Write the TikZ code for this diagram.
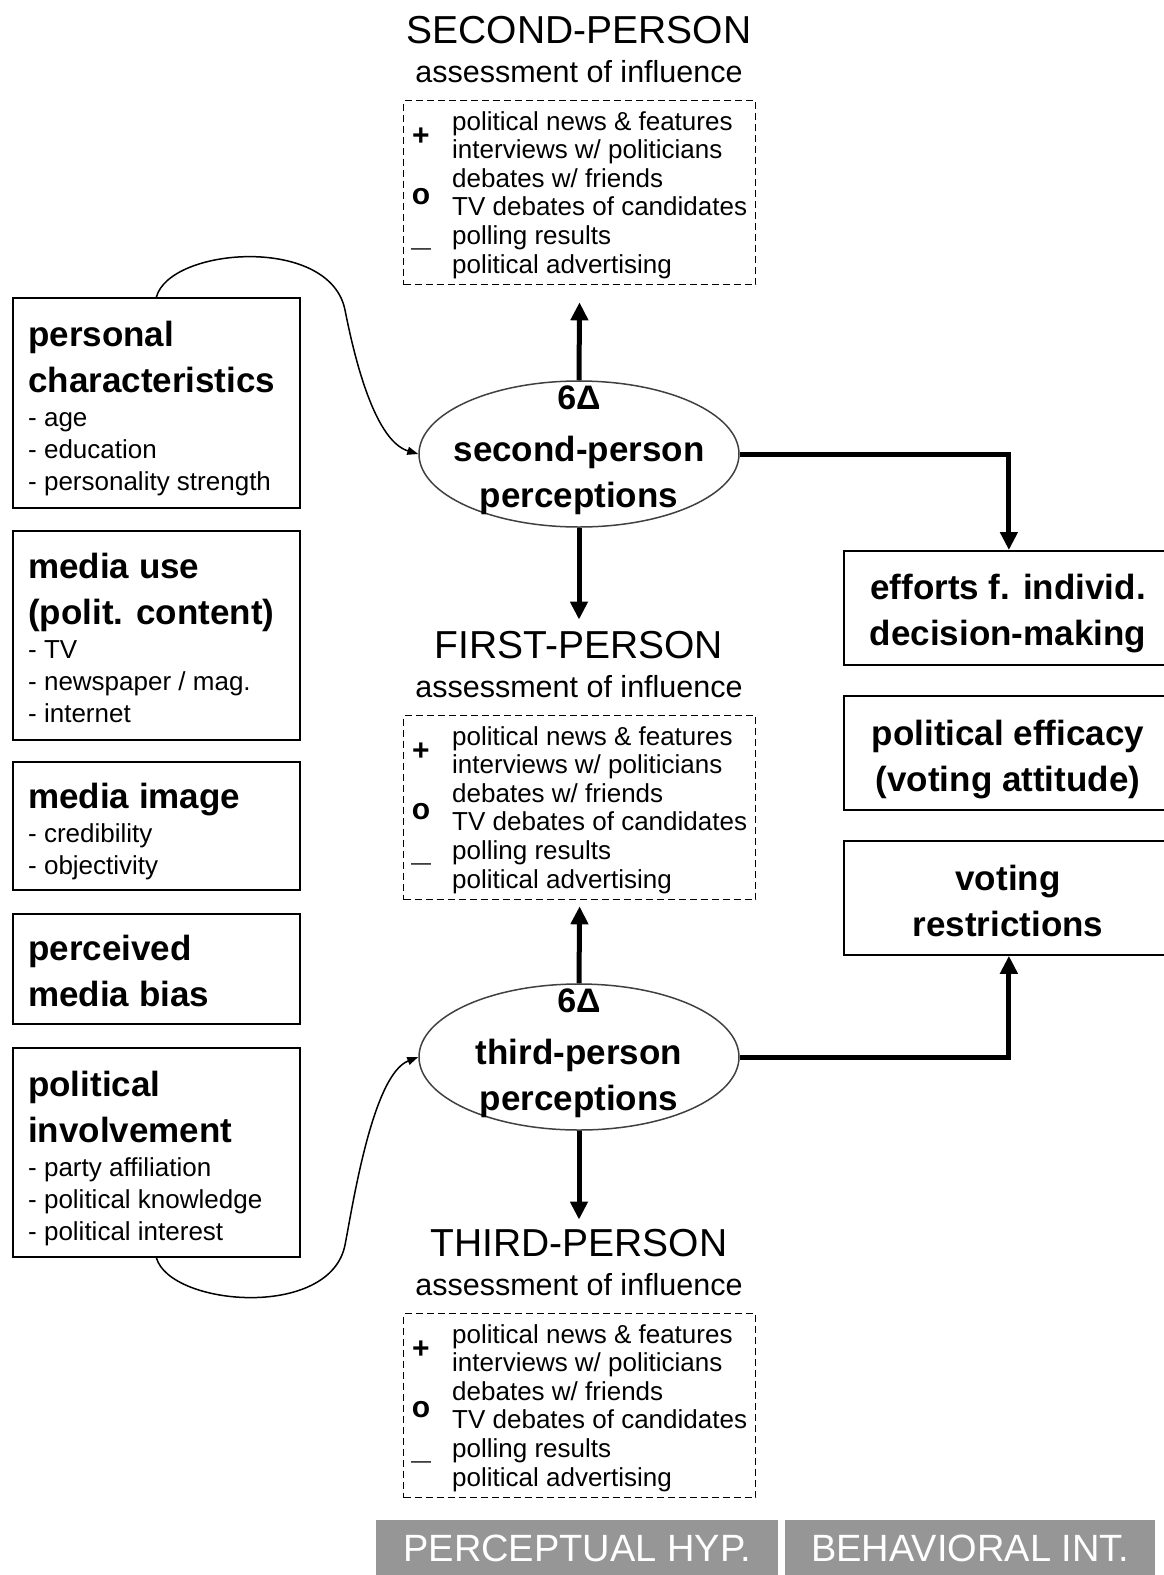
\documentclass[tikz,border=0pt]{standalone}
\usepackage{fontspec}
\setmainfont{Liberation Sans}
\usetikzlibrary{shapes.geometric,arrows.meta}
\newcommand\headfont{\fontsize{39}{40}\selectfont}
\newcommand\subfont{\fontsize{30.5}{32}\selectfont}
\newcommand\titlefont{\fontsize{35}{46}\selectfont\bfseries}
\newcommand\itemfont{\fontsize{26}{32}\selectfont}
\newcommand\listfont{\fontsize{26}{28.6}\selectfont}
\newcommand\barfont{\fontsize{38}{40}\selectfont}
\begin{document}
\begin{tikzpicture}[x=1pt,y=-1pt,
	box/.style={draw,line width=1.8pt,anchor=north west,inner sep=0pt},
	dbox/.style={draw,line width=1.3pt,dash pattern=on 7pt off 4pt,anchor=north west,
		minimum width=352pt,minimum height=184pt,inner sep=0pt},
	txt/.style={anchor=base west,inner sep=0pt,align=left},
	ctxt/.style={anchor=base,inner sep=0pt,align=center},
	perc/.style={draw=black!75,line width=1.5pt,ellipse,minimum width=320pt,minimum height=146pt,inner sep=0pt},
	bigarrow/.style={line width=5pt,-{Triangle[length=18pt,width=17pt]}},
	link/.style={line width=1.5pt,-{Triangle[length=11pt,width=8pt]}},
	bar/.style={fill=black!41,text=white,font=\barfont,anchor=north west,inner sep=0pt,minimum height=56pt}]
	\useasboundingbox (0,0) rectangle (1163,1575);
	% assessment of influence (base = last line)
	\foreach \top/\head [count=\i] in {100/SECOND,715/FIRST,1313/THIRD} {
		\node [ctxt,font=\headfont] (head\i) at (579,\top-57) {\head-PERSON};
		\node [ctxt,font=\subfont] at (579,\top-18) {assessment of influence};
		\node [dbox] (dbox\i) at (403,\top) {};
		\node [txt,font=\listfont] at (452,\top+173) {political news \& features\\interviews w/ politicians\\debates w/ friends\\TV debates of candidates\\polling results\\political advertising};
		\node [font=\fontsize{30}{30}\selectfont\bfseries] at (421,\top+37) {+};
		\node [font=\fontsize{30}{30}\selectfont\bfseries] at (421,\top+97) {o};
		\node [font=\fontsize{20}{20}\selectfont] at (421,\top+152) {—};
	}
	% perceptions
	\node [perc] (secperc) at (579,454) {};
	\node [font=\fontsize{34}{34}\selectfont\bfseries] at (579,398) {6Δ};
	\node [ctxt,font=\titlefont] at (579,507) {second-person\\perceptions};
	\node [perc] (thirdperc) at (579,1057) {};
	\node [font=\fontsize{34}{34}\selectfont\bfseries] at (579,1001) {6Δ};
	\node [ctxt,font=\titlefont] at (579,1110) {third-person\\perceptions};
	% left side
	\node [box,minimum width=287pt,minimum height=210pt] (persbox) at (12,297) {};
	\node [txt,font=\titlefont] at (28,392) {personal\\characteristics};
	\node [txt,font=\itemfont] at (28,490) {- age\\- education\\- personality strength};
	\node [box,minimum width=287pt,minimum height=209pt] (usebox) at (12,530) {};
	\node [txt,font=\titlefont] at (28,624) {media use\\(polit. content)};
	\node [txt,font=\itemfont] at (28,722) {- TV\\- newspaper / mag.\\- internet};
	\node [box,minimum width=287pt,minimum height=128pt] (imagebox) at (12,761) {};
	\node [txt,font=\titlefont] at (28,808) {media image};
	\node [txt,font=\itemfont] at (28,874) {- credibility\\- objectivity};
	\node [box,minimum width=287pt,minimum height=110pt] (biasbox) at (12,913) {};
	\node [txt,font=\titlefont] at (28,1006) {perceived\\media bias};
	\node [box,minimum width=287pt,minimum height=209pt] (involvbox) at (12,1047) {};
	\node [txt,font=\titlefont] at (28,1142) {political\\involvement};
	\node [txt,font=\itemfont] at (28,1240) {- party affiliation\\- political knowledge\\- political interest};
	% right side
	\node [box,minimum width=330pt,minimum height=114pt] (effbox) at (843,550) {};
	\node [ctxt,font=\titlefont] at (1008,645) {efforts f. individ.\\decision-making};
	\node [box,minimum width=330pt,minimum height=114pt] (efficbox) at (843,695) {};
	\node [ctxt,font=\titlefont] at (1008,791) {political efficacy\\(voting attitude)};
	\node [box,minimum width=330pt,minimum height=114pt] (restrbox) at (843,840) {};
	\node [ctxt,font=\titlefont] at (1008,936) {voting\\restrictions};
	% bars
	\node [bar,minimum width=402pt] (perchyp) at (376,1520) {PERCEPTUAL HYP.};
	\node [bar,minimum width=370pt] (behavint) at (785,1520) {BEHAVIORAL INT.};
	% arrows
	\draw [bigarrow,shorten >=17pt] (secperc.north) -- (dbox1.south);
	\draw [bigarrow,shorten >=11pt] (secperc.south) -- (head2.north);
	\draw [bigarrow,shorten >=6pt] (thirdperc.north) -- (dbox2.south);
	\draw [bigarrow,shorten >=9pt] (thirdperc.south) -- (head3.north);
	\draw [bigarrow] (secperc.east) -| (effbox.north);
	\draw [bigarrow] (thirdperc.east) -| (restrbox.south);
	\draw [link] (persbox.north) .. controls (170,247) and (330,235) .. (345,310)
		.. controls (352,345) and (372,440) .. (secperc.west);
	\draw [link] (involvbox.south) .. controls (170,1306) and (330,1320) .. (345,1245)
		.. controls (352,1210) and (372,1075) .. (thirdperc.west);
\end{tikzpicture}
\end{document}
